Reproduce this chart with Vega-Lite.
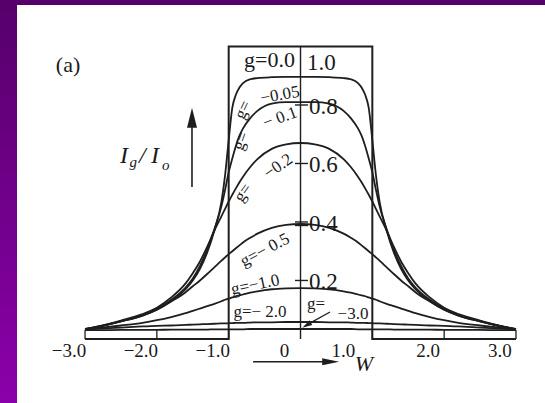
{
  "$schema": "https://vega.github.io/schema/vega-lite/v6.json",
  "width": 545,
  "height": 403,
  "padding": 0,
  "autosize": "none",
  "background": "#ffffff",
  "config": {
    "view": {"stroke": null},
    "axis": {"disable": true},
    "font": "Liberation Serif",
    "text": {"font": "Liberation Serif", "color": "#1a1a1a"}
  },
  "data": {"values": [{}]},
  "datasets": {
    "curves": [
      {"W": -3.0, "g005": 0.033, "g01": 0.033, "g02": 0.034, "g05": 0.034, "g10": 0.033, "g20": 0.033, "g30": 0.030},
      {"W": -2.8, "g005": 0.042, "g01": 0.043, "g02": 0.044, "g05": 0.043, "g10": 0.038, "g20": 0.035, "g30": 0.030},
      {"W": -2.5, "g005": 0.060, "g01": 0.061, "g02": 0.063, "g05": 0.060, "g10": 0.046, "g20": 0.039, "g30": 0.031},
      {"W": -2.2, "g005": 0.080, "g01": 0.082, "g02": 0.085, "g05": 0.080, "g10": 0.055, "g20": 0.043, "g30": 0.031},
      {"W": -2.0, "g005": 0.100, "g01": 0.103, "g02": 0.107, "g05": 0.100, "g10": 0.064, "g20": 0.045, "g30": 0.031},
      {"W": -1.8, "g005": 0.130, "g01": 0.134, "g02": 0.142, "g05": 0.128, "g10": 0.075, "g20": 0.046, "g30": 0.032},
      {"W": -1.6, "g005": 0.170, "g01": 0.176, "g02": 0.190, "g05": 0.160, "g10": 0.088, "g20": 0.048, "g30": 0.032},
      {"W": -1.5, "g005": 0.200, "g01": 0.207, "g02": 0.225, "g05": 0.180, "g10": 0.096, "g20": 0.049, "g30": 0.032},
      {"W": -1.4, "g005": 0.240, "g01": 0.250, "g02": 0.265, "g05": 0.200, "g10": 0.104, "g20": 0.050, "g30": 0.032},
      {"W": -1.3, "g005": 0.295, "g01": 0.305, "g02": 0.315, "g05": 0.222, "g10": 0.112, "g20": 0.051, "g30": 0.032},
      {"W": -1.2, "g005": 0.370, "g01": 0.375, "g02": 0.370, "g05": 0.245, "g10": 0.120, "g20": 0.052, "g30": 0.033},
      {"W": -1.1, "g005": 0.470, "g01": 0.455, "g02": 0.420, "g05": 0.268, "g10": 0.129, "g20": 0.053, "g30": 0.033},
      {"W": -1.05, "g005": 0.560, "g01": 0.510, "g02": 0.445, "g05": 0.279, "g10": 0.134, "g20": 0.053, "g30": 0.033},
      {"W": -1.0, "g005": 0.680, "g01": 0.570, "g02": 0.470, "g05": 0.290, "g10": 0.138, "g20": 0.054, "g30": 0.033},
      {"W": -0.95, "g005": 0.790, "g01": 0.617, "g02": 0.493, "g05": 0.300, "g10": 0.142, "g20": 0.054, "g30": 0.033},
      {"W": -0.9, "g005": 0.835, "g01": 0.660, "g02": 0.515, "g05": 0.310, "g10": 0.146, "g20": 0.055, "g30": 0.033},
      {"W": -0.85, "g005": 0.860, "g01": 0.695, "g02": 0.536, "g05": 0.320, "g10": 0.149, "g20": 0.055, "g30": 0.033},
      {"W": -0.8, "g005": 0.875, "g01": 0.720, "g02": 0.555, "g05": 0.330, "g10": 0.152, "g20": 0.055, "g30": 0.033},
      {"W": -0.7, "g005": 0.888, "g01": 0.755, "g02": 0.588, "g05": 0.346, "g10": 0.158, "g20": 0.056, "g30": 0.034},
      {"W": -0.6, "g005": 0.892, "g01": 0.780, "g02": 0.615, "g05": 0.360, "g10": 0.163, "g20": 0.057, "g30": 0.034},
      {"W": -0.4, "g005": 0.895, "g01": 0.805, "g02": 0.650, "g05": 0.380, "g10": 0.170, "g20": 0.057, "g30": 0.034},
      {"W": -0.2, "g005": 0.896, "g01": 0.810, "g02": 0.665, "g05": 0.390, "g10": 0.173, "g20": 0.058, "g30": 0.034},
      {"W": 0.0, "g005": 0.896, "g01": 0.810, "g02": 0.670, "g05": 0.393, "g10": 0.174, "g20": 0.058, "g30": 0.034},
      {"W": 0.2, "g005": 0.896, "g01": 0.810, "g02": 0.665, "g05": 0.390, "g10": 0.173, "g20": 0.058, "g30": 0.034},
      {"W": 0.4, "g005": 0.895, "g01": 0.805, "g02": 0.650, "g05": 0.380, "g10": 0.170, "g20": 0.057, "g30": 0.034},
      {"W": 0.6, "g005": 0.892, "g01": 0.780, "g02": 0.615, "g05": 0.360, "g10": 0.163, "g20": 0.057, "g30": 0.034},
      {"W": 0.7, "g005": 0.888, "g01": 0.755, "g02": 0.588, "g05": 0.346, "g10": 0.158, "g20": 0.056, "g30": 0.034},
      {"W": 0.8, "g005": 0.875, "g01": 0.720, "g02": 0.555, "g05": 0.330, "g10": 0.152, "g20": 0.055, "g30": 0.033},
      {"W": 0.85, "g005": 0.860, "g01": 0.695, "g02": 0.536, "g05": 0.320, "g10": 0.149, "g20": 0.055, "g30": 0.033},
      {"W": 0.9, "g005": 0.835, "g01": 0.660, "g02": 0.515, "g05": 0.310, "g10": 0.146, "g20": 0.055, "g30": 0.033},
      {"W": 0.95, "g005": 0.790, "g01": 0.617, "g02": 0.493, "g05": 0.300, "g10": 0.142, "g20": 0.054, "g30": 0.033},
      {"W": 1.0, "g005": 0.680, "g01": 0.570, "g02": 0.470, "g05": 0.290, "g10": 0.138, "g20": 0.054, "g30": 0.033},
      {"W": 1.05, "g005": 0.560, "g01": 0.510, "g02": 0.445, "g05": 0.279, "g10": 0.134, "g20": 0.053, "g30": 0.033},
      {"W": 1.1, "g005": 0.470, "g01": 0.455, "g02": 0.420, "g05": 0.268, "g10": 0.129, "g20": 0.053, "g30": 0.033},
      {"W": 1.2, "g005": 0.370, "g01": 0.375, "g02": 0.370, "g05": 0.245, "g10": 0.120, "g20": 0.052, "g30": 0.033},
      {"W": 1.3, "g005": 0.295, "g01": 0.305, "g02": 0.315, "g05": 0.222, "g10": 0.112, "g20": 0.051, "g30": 0.032},
      {"W": 1.4, "g005": 0.240, "g01": 0.250, "g02": 0.265, "g05": 0.200, "g10": 0.104, "g20": 0.050, "g30": 0.032},
      {"W": 1.5, "g005": 0.200, "g01": 0.207, "g02": 0.225, "g05": 0.180, "g10": 0.096, "g20": 0.049, "g30": 0.032},
      {"W": 1.6, "g005": 0.170, "g01": 0.176, "g02": 0.190, "g05": 0.160, "g10": 0.088, "g20": 0.048, "g30": 0.032},
      {"W": 1.8, "g005": 0.130, "g01": 0.134, "g02": 0.142, "g05": 0.128, "g10": 0.075, "g20": 0.046, "g30": 0.032},
      {"W": 2.0, "g005": 0.100, "g01": 0.103, "g02": 0.107, "g05": 0.100, "g10": 0.064, "g20": 0.045, "g30": 0.031},
      {"W": 2.2, "g005": 0.080, "g01": 0.082, "g02": 0.085, "g05": 0.080, "g10": 0.055, "g20": 0.043, "g30": 0.031},
      {"W": 2.5, "g005": 0.060, "g01": 0.061, "g02": 0.063, "g05": 0.060, "g10": 0.046, "g20": 0.039, "g30": 0.031},
      {"W": 2.8, "g005": 0.042, "g01": 0.043, "g02": 0.044, "g05": 0.043, "g10": 0.038, "g20": 0.035, "g30": 0.030},
      {"W": 3.0, "g005": 0.033, "g01": 0.033, "g02": 0.034, "g05": 0.034, "g10": 0.033, "g20": 0.033, "g30": 0.030}
    ],
    "g0": [
      {"W": -3.0, "I": 0},
      {"W": -1.0, "I": 0},
      {"W": -1.0, "I": 1.0},
      {"W": 1.0, "I": 1.0},
      {"W": 1.0, "I": 0},
      {"W": 3.0, "I": 0}
    ],
    "wticks": [
      {"W": -3, "label": "−3.0"},
      {"W": -2, "label": "−2.0"},
      {"W": -1, "label": "−1.0"},
      {"W": 0, "label": "0"},
      {"W": 1, "label": "1.0"},
      {"W": 2, "label": "2.0"},
      {"W": 3, "label": "3.0"}
    ],
    "iticks": [
      {"I": 0.8, "label": "0.8"},
      {"I": 0.6, "label": "0.6"},
      {"I": 0.4, "label": "0.4"},
      {"I": 0.2, "label": "0.2"}
    ]
  },
  "layer": [
    {
      "mark": {
        "type": "rect",
        "color": {
          "gradient": "linear",
          "x1": 0, "y1": 0, "x2": 0, "y2": 1,
          "stops": [
            {"offset": 0, "color": "#56006a"},
            {"offset": 1, "color": "#8b00aa"}
          ]
        }
      },
      "encoding": {
        "x": {"datum": -4.184, "type": "quantitative", "scale": {"domain": [-4.184, 3.404], "nice": false, "zero": false}},
        "x2": {"datum": 3.404},
        "y": {"datum": -0.219, "type": "quantitative", "scale": {"domain": [-0.219, 1.159], "nice": false, "zero": false}},
        "y2": {"datum": 1.159}
      }
    },
    {
      "mark": {"type": "rect", "color": "#ffffff"},
      "encoding": {
        "x": {"datum": -3.947, "type": "quantitative"},
        "x2": {"datum": 3.404},
        "y": {"datum": -0.219, "type": "quantitative"},
        "y2": {"datum": 1.142}
      }
    },
    {
      "data": {"name": "wticks"},
      "transform": [{"filter": "datum.W != 0"}],
      "mark": {"type": "rule", "color": "#1e1e1e", "strokeWidth": 1.3},
      "encoding": {
        "x": {"field": "W", "type": "quantitative"},
        "y": {"datum": 0, "type": "quantitative"},
        "y2": {"datum": 0.031}
      }
    },
    {
      "data": {"name": "curves"},
      "transform": [
        {"fold": ["g005", "g01", "g02", "g05", "g10", "g20", "g30"], "as": ["g", "I"]}
      ],
      "mark": {"type": "line", "color": "#1e1e1e", "strokeWidth": 1.8, "interpolate": "monotone"},
      "encoding": {
        "x": {"field": "W", "type": "quantitative"},
        "y": {"field": "I", "type": "quantitative"},
        "detail": {"field": "g"},
        "order": {"value": null}
      }
    },
    {
      "data": {"name": "g0"},
      "mark": {"type": "line", "color": "#1e1e1e", "strokeWidth": 2},
      "encoding": {
        "x": {"field": "W", "type": "quantitative"},
        "y": {"field": "I", "type": "quantitative"},
        "order": {"value": null}
      }
    },
    {
      "mark": {"type": "rule", "color": "#1e1e1e", "strokeWidth": 1.4},
      "encoding": {
        "x": {"datum": 0, "type": "quantitative"},
        "y": {"datum": 0, "type": "quantitative"},
        "y2": {"datum": 1.0}
      }
    },
    {
      "data": {"name": "iticks"},
      "mark": {"type": "rule", "color": "#1e1e1e", "strokeWidth": 1.4},
      "encoding": {
        "x": {"datum": -0.077, "type": "quantitative"},
        "x2": {"datum": 0.104},
        "y": {"field": "I", "type": "quantitative"}
      }
    },
    {
      "mark": {"type": "rule", "color": "#1e1e1e", "strokeWidth": 1.4},
      "encoding": {
        "x": {"datum": -0.077, "type": "quantitative"},
        "x2": {"datum": 0.104},
        "y": {"datum": 0.388, "type": "quantitative"}
      }
    },
    {
      "data": {"name": "iticks"},
      "mark": {"type": "text", "fontSize": 23, "align": "left", "baseline": "middle", "dx": 1, "dy": 2},
      "encoding": {
        "x": {"datum": 0.104, "type": "quantitative"},
        "y": {"field": "I", "type": "quantitative"},
        "text": {"field": "label"}
      }
    },
    {
      "data": {"name": "wticks"},
      "transform": [{"filter": "datum.W != 1"}],
      "mark": {"type": "text", "fontSize": 19, "align": "center", "baseline": "alphabetic", "dx": -16},
      "encoding": {
        "x": {"field": "W", "type": "quantitative"},
        "y": {"datum": -0.0615, "type": "quantitative"},
        "text": {"field": "label"}
      }
    },
    {
      "data": {"name": "wticks"},
      "transform": [{"filter": "datum.W == 1"}],
      "mark": {"type": "text", "fontSize": 19, "align": "center", "baseline": "alphabetic", "dx": -29},
      "encoding": {
        "x": {"field": "W", "type": "quantitative"},
        "y": {"datum": -0.0615, "type": "quantitative"},
        "text": {"field": "label"}
      }
    },
    {
      "mark": {"type": "text", "text": "1.0", "fontSize": 23, "align": "left", "baseline": "alphabetic"},
      "encoding": {"x": {"datum": 0.09, "type": "quantitative"}, "y": {"datum": 0.92, "type": "quantitative"}}
    },
    {
      "mark": {"type": "text", "text": "g=0.0", "fontSize": 22, "align": "right", "baseline": "alphabetic"},
      "encoding": {"x": {"datum": -0.077, "type": "quantitative"}, "y": {"datum": 0.93, "type": "quantitative"}}
    },
    {
      "mark": {"type": "text", "text": "g=", "fontSize": 17, "align": "center", "baseline": "middle", "angle": -65},
      "encoding": {"x": {"datum": -0.8, "type": "quantitative"}, "y": {"datum": 0.783, "type": "quantitative"}}
    },
    {
      "mark": {"type": "text", "text": "−0.05", "fontSize": 17, "align": "center", "baseline": "middle", "angle": -10},
      "encoding": {"x": {"datum": -0.285, "type": "quantitative"}, "y": {"datum": 0.834, "type": "quantitative"}}
    },
    {
      "mark": {"type": "text", "text": "g=", "fontSize": 17, "align": "center", "baseline": "middle", "angle": -70},
      "encoding": {"x": {"datum": -0.83, "type": "quantitative"}, "y": {"datum": 0.677, "type": "quantitative"}}
    },
    {
      "mark": {"type": "text", "text": "− 0.1", "fontSize": 17, "align": "center", "baseline": "middle", "angle": -20},
      "encoding": {"x": {"datum": -0.285, "type": "quantitative"}, "y": {"datum": 0.756, "type": "quantitative"}}
    },
    {
      "mark": {"type": "text", "text": "g=", "fontSize": 17, "align": "center", "baseline": "middle", "angle": -55},
      "encoding": {"x": {"datum": -0.8, "type": "quantitative"}, "y": {"datum": 0.5, "type": "quantitative"}}
    },
    {
      "mark": {"type": "text", "text": "−0.2", "fontSize": 17, "align": "center", "baseline": "middle", "angle": -35},
      "encoding": {"x": {"datum": -0.31, "type": "quantitative"}, "y": {"datum": 0.59, "type": "quantitative"}}
    },
    {
      "mark": {"type": "text", "text": "g=− 0.5", "fontSize": 17, "align": "center", "baseline": "middle", "angle": -28},
      "encoding": {"x": {"datum": -0.495, "type": "quantitative"}, "y": {"datum": 0.304, "type": "quantitative"}}
    },
    {
      "mark": {"type": "text", "text": "g=−1.0", "fontSize": 17, "align": "center", "baseline": "middle", "angle": -12},
      "encoding": {"x": {"datum": -0.63, "type": "quantitative"}, "y": {"datum": 0.185, "type": "quantitative"}}
    },
    {
      "mark": {"type": "text", "text": "g=− 2.0", "fontSize": 17, "align": "center", "baseline": "middle"},
      "encoding": {"x": {"datum": -0.564, "type": "quantitative"}, "y": {"datum": 0.092, "type": "quantitative"}}
    },
    {
      "mark": {"type": "text", "text": "g=", "fontSize": 17, "align": "center", "baseline": "middle"},
      "encoding": {"x": {"datum": 0.216, "type": "quantitative"}, "y": {"datum": 0.12, "type": "quantitative"}}
    },
    {
      "mark": {"type": "text", "text": "−3.0", "fontSize": 17, "align": "center", "baseline": "middle"},
      "encoding": {"x": {"datum": 0.731, "type": "quantitative"}, "y": {"datum": 0.087, "type": "quantitative"}}
    },
    {
      "mark": {"type": "rule", "color": "#1e1e1e", "strokeWidth": 1.3},
      "encoding": {
        "x": {"datum": 0.411, "type": "quantitative"},
        "x2": {"datum": 0.1},
        "y": {"datum": 0.092, "type": "quantitative"},
        "y2": {"datum": 0.05}
      }
    },
    {
      "mark": {"type": "point", "shape": "M0,-1L0.55,1L-0.55,1Z", "filled": true, "opacity": 1, "color": "#1e1e1e", "size": 100, "angle": 239},
      "encoding": {"x": {"datum": 0.085, "type": "quantitative"}, "y": {"datum": 0.047, "type": "quantitative"}}
    },
    {
      "mark": {"type": "text", "text": "(a)", "fontSize": 22, "align": "center", "baseline": "alphabetic"},
      "encoding": {"x": {"datum": -3.237, "type": "quantitative"}, "y": {"datum": 0.913, "type": "quantitative"}}
    },
    {
      "mark": {"type": "text", "text": "I", "fontSize": 24, "fontStyle": "italic", "align": "left", "baseline": "alphabetic"},
      "encoding": {"x": {"datum": -2.513, "type": "quantitative"}, "y": {"datum": 0.602, "type": "quantitative"}}
    },
    {
      "mark": {"type": "text", "text": "g", "fontSize": 15, "fontStyle": "italic", "align": "left", "baseline": "alphabetic"},
      "encoding": {"x": {"datum": -2.38, "type": "quantitative"}, "y": {"datum": 0.588, "type": "quantitative"}}
    },
    {
      "mark": {"type": "text", "text": "/", "fontSize": 24, "fontStyle": "italic", "align": "left", "baseline": "alphabetic"},
      "encoding": {"x": {"datum": -2.248, "type": "quantitative"}, "y": {"datum": 0.602, "type": "quantitative"}}
    },
    {
      "mark": {"type": "text", "text": "I", "fontSize": 24, "fontStyle": "italic", "align": "left", "baseline": "alphabetic"},
      "encoding": {"x": {"datum": -2.081, "type": "quantitative"}, "y": {"datum": 0.602, "type": "quantitative"}}
    },
    {
      "mark": {"type": "text", "text": "o", "fontSize": 15, "fontStyle": "italic", "align": "left", "baseline": "alphabetic"},
      "encoding": {"x": {"datum": -1.93, "type": "quantitative"}, "y": {"datum": 0.578, "type": "quantitative"}}
    },
    {
      "mark": {"type": "rule", "color": "#1e1e1e", "strokeWidth": 1.6},
      "encoding": {
        "x": {"datum": -1.511, "type": "quantitative"},
        "y": {"datum": 0.52, "type": "quantitative"},
        "y2": {"datum": 0.749}
      }
    },
    {
      "mark": {"type": "point", "shape": "M0,-1L0.5,1L-0.5,1Z", "filled": true, "opacity": 1, "color": "#1e1e1e", "size": 400},
      "encoding": {"x": {"datum": -1.511, "type": "quantitative"}, "y": {"datum": 0.756, "type": "quantitative"}}
    },
    {
      "mark": {"type": "rule", "color": "#1e1e1e", "strokeWidth": 1.6},
      "encoding": {
        "x": {"datum": -0.66, "type": "quantitative"},
        "x2": {"datum": 0.33},
        "y": {"datum": -0.078, "type": "quantitative"}
      }
    },
    {
      "mark": {"type": "point", "shape": "M1,0L-1,-0.4L-1,0.4Z", "filled": true, "opacity": 1, "color": "#1e1e1e", "size": 289},
      "encoding": {"x": {"datum": 0.42, "type": "quantitative"}, "y": {"datum": -0.078, "type": "quantitative"}}
    },
    {
      "mark": {"type": "text", "text": "W", "fontSize": 22, "fontStyle": "italic", "align": "center", "baseline": "middle"},
      "encoding": {"x": {"datum": 0.884, "type": "quantitative"}, "y": {"datum": -0.085, "type": "quantitative"}}
    }
  ]
}
